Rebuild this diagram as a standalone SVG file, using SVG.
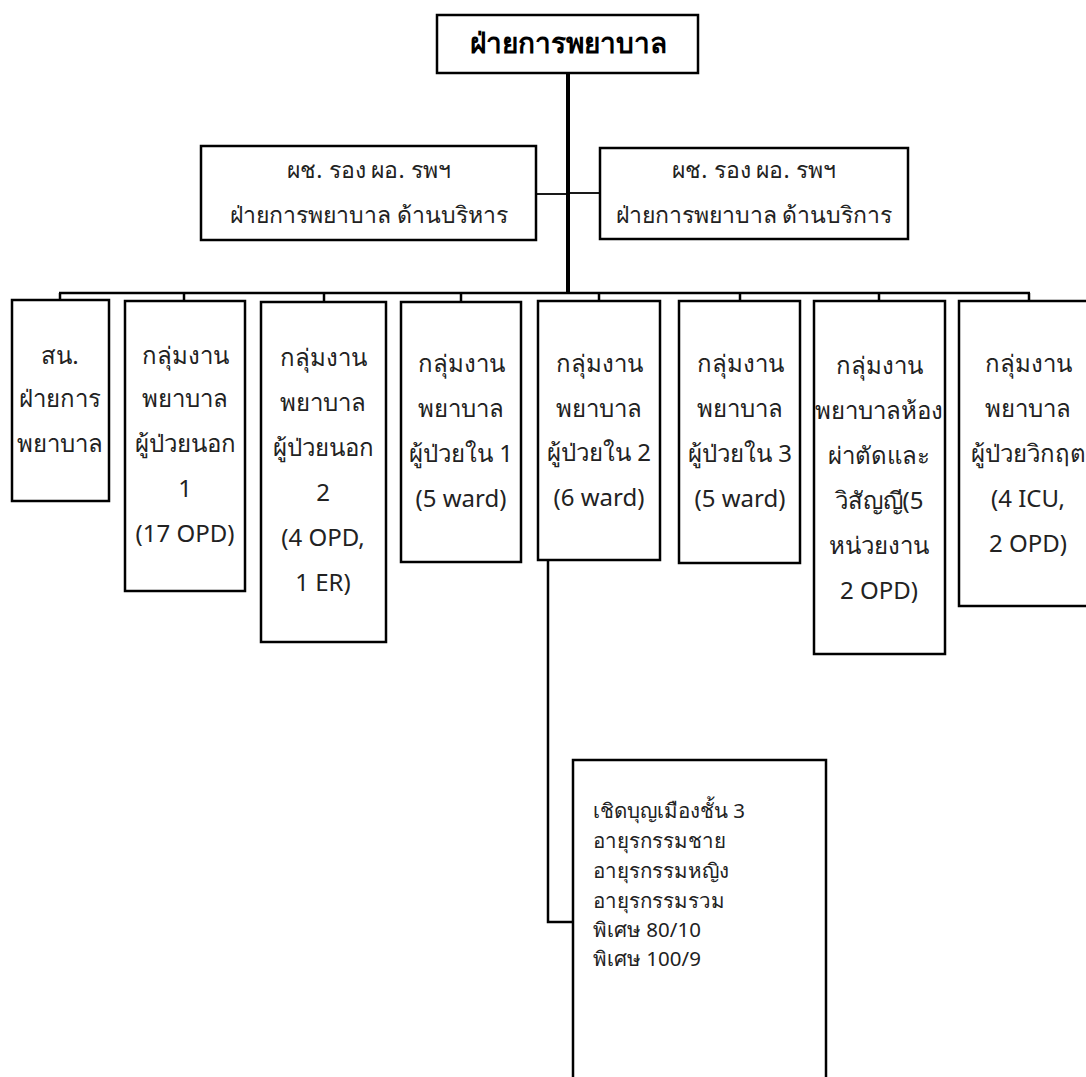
<svg xmlns="http://www.w3.org/2000/svg" width="1086" height="1077" viewBox="0 0 1086 1077">
<style>
.box{fill:#fff;stroke:#000;stroke-width:2.5}
.ln{fill:none;stroke:#000;stroke-width:2.5}
text{font-family:'Noto Sans','Liberation Sans',sans-serif;fill:#222}
.t{font-size:24px;text-anchor:middle}
.m{font-size:23px;text-anchor:middle}
.b{font-size:20.5px}
.h{font-size:28px;font-weight:bold;text-anchor:middle;fill:#000}
</style>
<rect width="1086" height="1077" fill="#fff"/>
<g id="connectors">
<line class="ln" x1="568" y1="73" x2="568" y2="293" style="stroke-width:4"/>
<line class="ln" x1="536" y1="194" x2="568" y2="194" style="stroke-width:1.8"/>
<line class="ln" x1="568" y1="193" x2="600" y2="193" style="stroke-width:1.8"/>
<line class="ln" x1="59" y1="293" x2="1030" y2="293"/>
<line class="ln" x1="60" y1="293" x2="60" y2="300"/>
<line class="ln" x1="184" y1="293" x2="184" y2="301"/>
<line class="ln" x1="324" y1="293" x2="324" y2="302"/>
<line class="ln" x1="461" y1="293" x2="461" y2="302"/>
<line class="ln" x1="599" y1="293" x2="599" y2="301"/>
<line class="ln" x1="740" y1="293" x2="740" y2="301"/>
<line class="ln" x1="879" y1="293" x2="879" y2="301"/>
<line class="ln" x1="1029" y1="293" x2="1029" y2="301"/>
<polyline class="ln" points="548,560 548,922 573,922"/>
</g>
<g id="n-top">
<rect class="box" x="437" y="15" width="261" height="58"/>
<text class="h" x="568" y="53">ฝ่ายการพยาบาล</text>
</g>
<g id="n-admin">
<rect class="box" x="201" y="146" width="335" height="94"/>
<text class="m" x="369" y="178">ผช. รอง ผอ. รพฯ</text>
<text class="m" x="369" y="223">ฝ่ายการพยาบาล ด้านบริหาร</text>
</g>
<g id="n-service">
<rect class="box" x="600" y="148" width="308" height="91"/>
<text class="m" x="754" y="178">ผช. รอง ผอ. รพฯ</text>
<text class="m" x="754" y="223">ฝ่ายการพยาบาล ด้านบริการ</text>
</g>
<g id="n1">
<rect class="box" x="12" y="300" width="97" height="201"/>
<text class="t" x="60" y="364">สน.</text>
<text class="t" x="60" y="407">ฝ่ายการ</text>
<text class="t" x="60" y="452">พยาบาล</text>
</g>
<g id="n2">
<rect class="box" x="125" y="301" width="120" height="290"/>
<text class="t" x="185" y="364">กลุ่มงาน</text>
<text class="t" x="185" y="407">พยาบาล</text>
<text class="t" x="185" y="452">ผู้ป่วยนอก</text>
<text class="t" x="185" y="497">1</text>
<text class="t" x="185" y="542">(17 OPD)</text>
</g>
<g id="n3">
<rect class="box" x="261" y="302" width="125" height="340"/>
<text class="t" x="323" y="366">กลุ่มงาน</text>
<text class="t" x="323" y="411">พยาบาล</text>
<text class="t" x="323" y="456">ผู้ป่วยนอก</text>
<text class="t" x="323" y="501">2</text>
<text class="t" x="323" y="546">(4 OPD,</text>
<text class="t" x="323" y="591">1 ER)</text>
</g>
<g id="n4">
<rect class="box" x="401" y="302" width="120" height="260"/>
<text class="t" x="461" y="372">กลุ่มงาน</text>
<text class="t" x="461" y="417">พยาบาล</text>
<text class="t" x="461" y="462">ผู้ป่วยใน 1</text>
<text class="t" x="461" y="507">(5 ward)</text>
</g>
<g id="n5">
<rect class="box" x="538" y="301" width="122" height="259"/>
<text class="t" x="599" y="372">กลุ่มงาน</text>
<text class="t" x="599" y="417">พยาบาล</text>
<text class="t" x="599" y="461">ผู้ป่วยใน 2</text>
<text class="t" x="599" y="506">(6 ward)</text>
</g>
<g id="n6">
<rect class="box" x="679" y="301" width="121" height="262"/>
<text class="t" x="740" y="372">กลุ่มงาน</text>
<text class="t" x="740" y="417">พยาบาล</text>
<text class="t" x="740" y="462">ผู้ป่วยใน 3</text>
<text class="t" x="740" y="507">(5 ward)</text>
</g>
<g id="n7">
<rect class="box" x="814" y="301" width="131" height="353"/>
<text class="t" x="879" y="374">กลุ่มงาน</text>
<text class="t" x="879" y="419">พยาบาลห้อง</text>
<text class="t" x="879" y="464">ผ่าตัดและ</text>
<text class="t" x="879" y="509">วิสัญญี(5</text>
<text class="t" x="879" y="554">หน่วยงาน</text>
<text class="t" x="879" y="599">2 OPD)</text>
</g>
<g id="n8">
<rect class="box" x="959" y="301" width="140" height="305"/>
<text class="t" x="1028" y="372">กลุ่มงาน</text>
<text class="t" x="1028" y="417">พยาบาล</text>
<text class="t" x="1028" y="462">ผู้ป่วยวิกฤต</text>
<text class="t" x="1028" y="507">(4 ICU,</text>
<text class="t" x="1028" y="552">2 OPD)</text>
</g>
<g id="n9">
<rect class="box" x="573" y="760" width="253" height="340"/>
<text class="b" x="593" y="818">เชิดบุญเมืองชั้น 3</text>
<text class="b" x="593" y="848">อายุรกรรมชาย</text>
<text class="b" x="593" y="878">อายุรกรรมหญิง</text>
<text class="b" x="593" y="908">อายุรกรรมรวม</text>
<text class="b" x="593" y="937">พิเศษ 80/10</text>
<text class="b" x="593" y="966">พิเศษ 100/9</text>
</g>
</svg>
